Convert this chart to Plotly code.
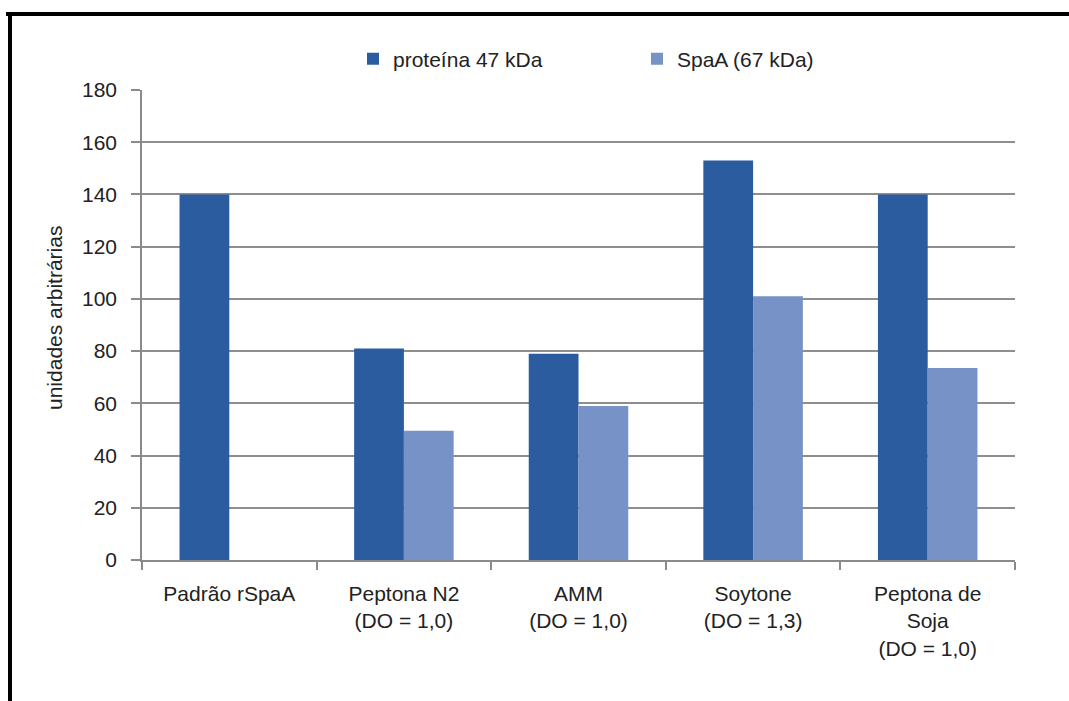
import plotly.graph_objects as go

categories = ["Padrão rSpaA", "Peptona N2<br>(DO = 1,0)", "AMM<br>(DO = 1,0)",
              "Soytone<br>(DO = 1,3)", "Peptona de<br>Soja<br>(DO = 1,0)"]
proteina_47 = [140, 81, 79, 153, 140]
spaa_67 = [None, 49.5, 59, 101, 73.5]
y_ticks = [0, 20, 40, 60, 80, 100, 120, 140, 160, 180]
y_title = "unidades arbitrárias"

FONT = "Liberation Sans, Arial, sans-serif"
FS = 21
TXT = "#222222"
W, H = 1069, 701
L, R, T, B = 142, 54, 90, 141
pw, ph = W - L - R, H - T - B

def px(x):
    return (x - L) / pw

def py(y):
    return (H - B - y) / ph

fig = go.Figure()
fig.add_trace(go.Bar(x=categories, y=proteina_47, name="proteína 47 kDa",
                     marker=dict(color="#2b5c9f", line=dict(width=0))))
fig.add_trace(go.Bar(x=categories, y=spaa_67, name="SpaA (67 kDa)",
                     marker=dict(color="#7692c6", line=dict(width=0))))

fig.update_layout(
    width=W, height=H,
    margin=dict(l=L, r=R, t=T, b=B, autoexpand=False),
    paper_bgcolor="white", plot_bgcolor="white",
    barmode="group", bargap=0.43, bargroupgap=0,
    font=dict(family=FONT, size=FS, color=TXT),
    legend=dict(orientation="h", x=px(353), xanchor="left", y=py(59), yanchor="middle",
                font=dict(size=FS, color=TXT), itemwidth=30, entrywidth=239,
                bgcolor="rgba(0,0,0,0)"),
    xaxis=dict(showline=True, linecolor="#8a8a8a", linewidth=1.5,
               ticks="outside", tickson="boundaries", ticklen=8, tickcolor="#8a8a8a",
               tickwidth=1.5, tickfont=dict(size=FS, color=TXT), ticklabelstandoff=14,
               showgrid=False, automargin=False),
    yaxis=dict(range=[0, 180], tickvals=y_ticks, showline=True, linecolor="#8a8a8a",
               linewidth=1.5, ticks="outside", ticklen=9, tickcolor="#8a8a8a", tickwidth=1.5,
               showgrid=True, gridcolor="#8e8e8e", gridwidth=1.5, zeroline=False,
               tickfont=dict(size=FS, color=TXT), ticklabelstandoff=10,
               automargin=False),
    annotations=[
        dict(text=y_title, xref="paper", yref="paper", x=px(54), y=py(318),
             xanchor="center", yanchor="middle", textangle=-90, showarrow=False,
             font=dict(size=FS, color=TXT)),
    ],
    shapes=[
        dict(type="line", xref="paper", yref="paper", x0=px(6), x1=px(1075),
             y0=py(14), y1=py(14), line=dict(color="black", width=4)),
        dict(type="line", xref="paper", yref="paper", x0=px(10), x1=px(10),
             y0=py(12), y1=py(710), line=dict(color="black", width=4)),
    ],
)

fig.write_html("out.html")
